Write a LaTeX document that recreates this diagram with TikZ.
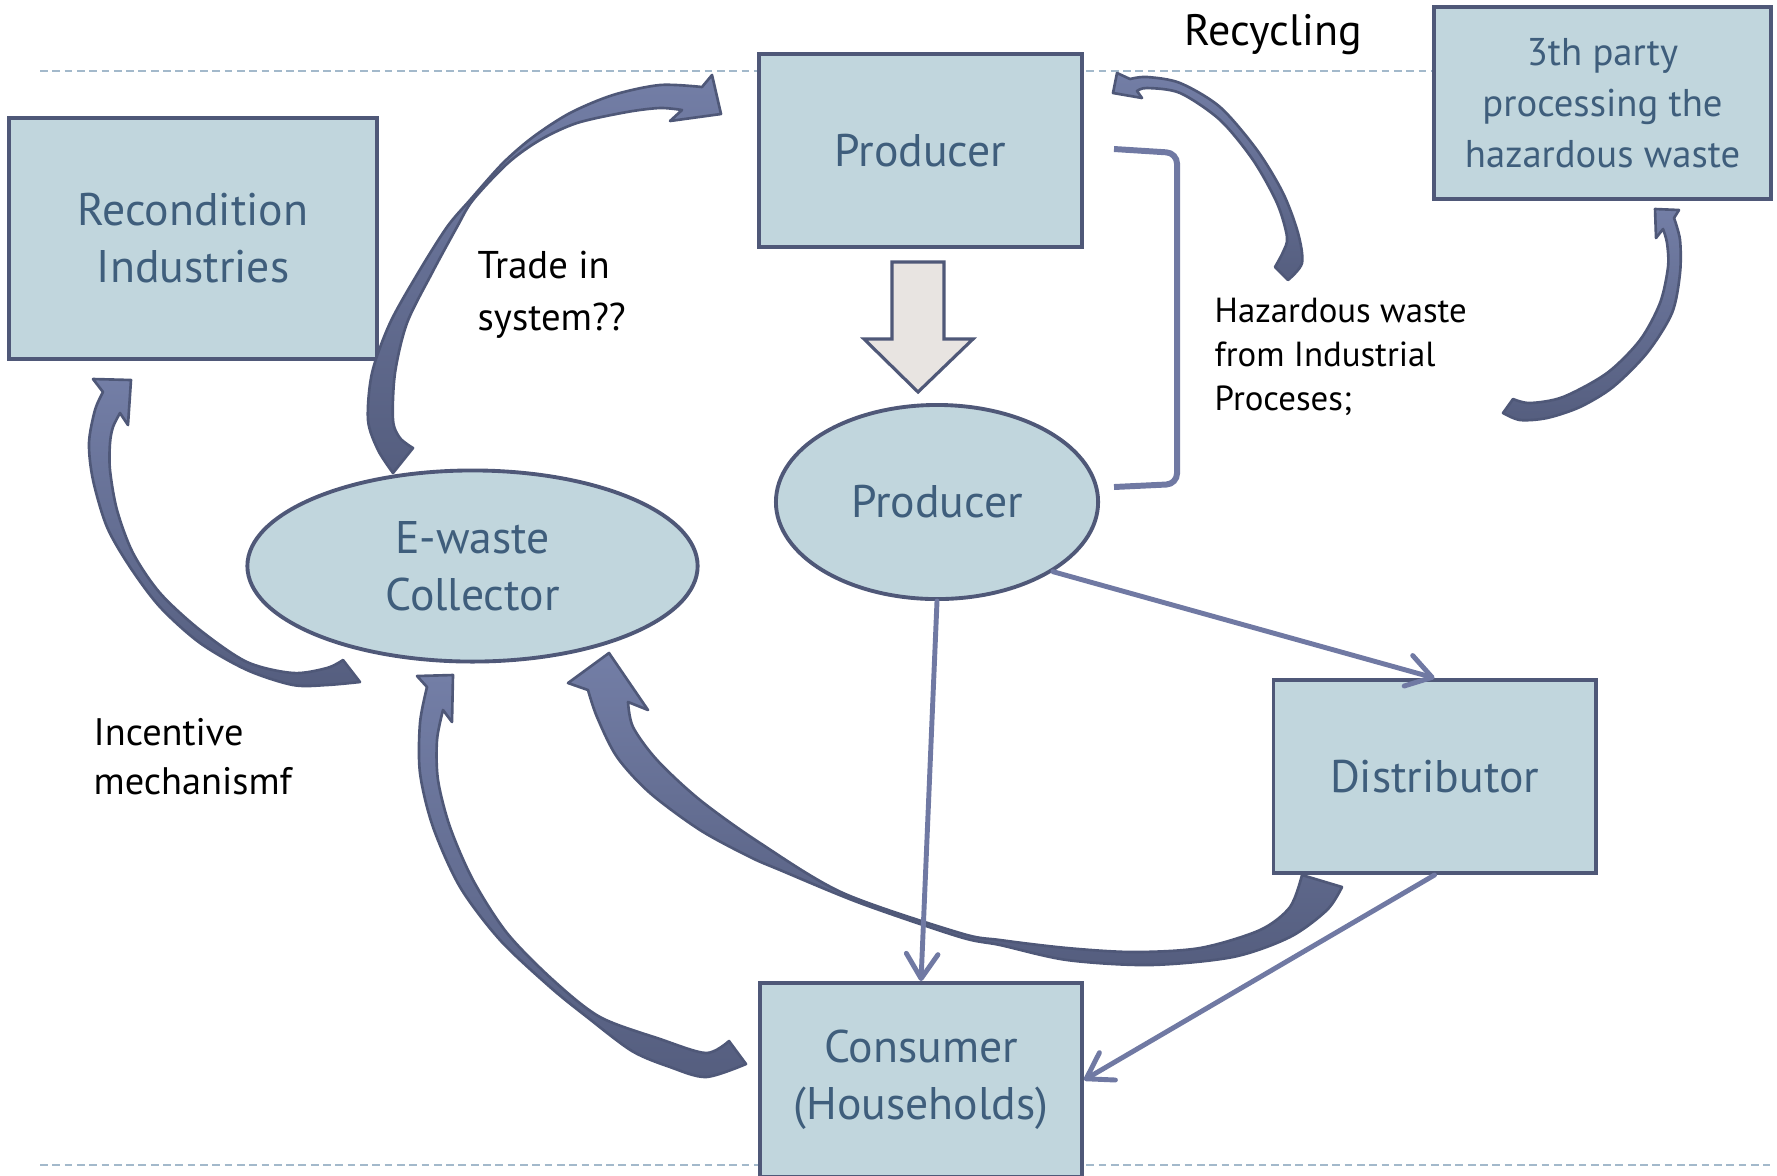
\documentclass[tikz,border=0pt]{standalone}
\usepackage{fontspec}
\setmainfont{PT Sans}
\usepackage{xcolor}
\usetikzlibrary{arrows.meta,shapes.geometric}
\definecolor{boxfill}{HTML}{C1D6DD}
\definecolor{boxedge}{HTML}{4F5878}
\definecolor{boxtext}{HTML}{3F5E7C}
\definecolor{flowcol}{HTML}{7079A3}
\definecolor{arrowlight}{HTML}{737EA6}
\definecolor{arrowdark}{HTML}{555E7F}
\definecolor{dashcol}{HTML}{A3B9CB}
\definecolor{hollowfill}{HTML}{E8E4E1}
\tikzset{
  stage/.style={rectangle, draw=boxedge, fill=boxfill, line width=1.1pt, minimum width=3.22cm, minimum height=1.93cm, inner sep=0pt, align=center, text=boxtext, font=\fontsize{13}{16.2}\selectfont},
  hub/.style={ellipse, draw=boxedge, fill=boxfill, line width=1.1pt, inner sep=0pt, align=center, text=boxtext, font=\fontsize{13}{16.2}\selectfont},
  flow/.style={draw=flowcol, line width=1.4pt, line cap=round, -{Straight Barb[length=7pt,width=9pt,round]}},
  bigarrow/.style={draw=boxedge, line width=0.75pt, line join=round, top color=arrowlight, bottom color=arrowdark},
  note/.style={align=left, anchor=west, inner sep=0pt, font=\fontsize{11}{14.8}\selectfont},
  guide/.style={draw=dashcol, line width=0.6pt, dash pattern=on 2.2pt off 1.3pt}
}
\begin{document}
\begin{tikzpicture}[x=0.01cm,y=-0.01cm]
\useasboundingbox (0,0) rectangle (1777,1175);
% dashed guides
\draw[guide] (40,71) -- (1434,71);
\draw[guide] (40,1165) -- (1770,1165);

% boxes
\node[stage, minimum width=3.68cm, minimum height=2.41cm] (recon) at (193,238.5) {Recondition\\Industries};
\node[stage] (prodbox) at (920.5,150.5) {Producer};
\node[stage, minimum width=3.37cm, minimum height=1.92cm, font=\fontsize{11}{14.5}\selectfont] (third) at (1602.5,103) {3th party\\processing the\\hazardous waste};
\node[stage] (dist) at (1434.5,776.5) {Distributor};
\node[stage, minimum height=1.94cm] (cons) at (921,1080) {Consumer\\(Households)};

% ellipses
\node[hub, minimum width=3.22cm, minimum height=1.94cm] (prod) at (937,502) {Producer};
\node[hub, minimum width=4.5cm, minimum height=1.91cm] (coll) at (472.5,566) {E-waste\\Collector};

% curved arrows
\draw[bigarrow] plot[smooth] coordinates {(393,473) (378,450) (368,420) (372,373) (390,323) (418,273) (447,227) (470,200) (503,163) (533,137) (570,113) (613,95) (660,85) (702,87)}
  -- (712,75) -- (721,114) -- (670,121)
  -- plot[smooth] coordinates {(682,110) (660,108) (627,112) (577,123) (540,140) (508,163) (473,200) (457,227) (432,273) (407,323) (395,373) (393,420) (400,438) (413,448)} -- cycle;
\draw[bigarrow] plot[smooth] coordinates {(360,682) (327,685) (293,685) (247,670) (200,643) (160,607) (130,567) (107,527) (93,480) (89,443) (95,410) (103,392)}
  -- (93,379) -- (131,380) -- (128,425)
  -- plot[smooth] coordinates {(120,413) (113,427) (110,443) (110,470) (117,510) (133,553) (160,593) (200,630) (247,662) (293,673) (327,668) (343,660)} -- cycle;
\draw[bigarrow] plot[smooth] coordinates {(1288,280) (1302,263) (1298,233) (1283,193) (1257,150) (1220,107) (1180,83) (1147,77) (1130,79)}
  -- (1117,73) -- (1113,93) -- (1142,98)
  -- plot[smooth] coordinates {(1137,91) (1147,88) (1180,93) (1220,120) (1253,160) (1277,203) (1287,237) (1283,252) (1275,267)} -- cycle;
\draw[bigarrow] plot[smooth] coordinates {(1503,413) (1520,420) (1547,418) (1580,407) (1613,387) (1647,353) (1672,313) (1680,273) (1680,240) (1674,218)}
  -- (1679,210) -- (1655,209) -- (1656,238)
  -- plot[smooth] coordinates {(1663,229) (1667,243) (1668,267) (1660,303) (1640,340) (1607,373) (1563,397) (1530,403) (1513,399)} -- cycle;
\draw[bigarrow] plot[smooth] coordinates {(746,1064) (706,1077) (670,1067) (632,1051) (587,1017) (550,987) (500,940) (460,887) (433,827) (420,773) (420,723) (427,687)}
  -- (417,676) -- (453,675) -- (452,722)
  -- plot[smooth] coordinates {(443,710) (437,740) (438,780) (450,827) (473,880) (507,933) (553,980) (600,1017) (660,1039) (706,1053) (729,1041)} -- cycle;
\draw[bigarrow] (609,653) -- (648,710)
  -- plot[smooth] coordinates {(628,702) (633,727) (657,760) (700,800) (760,843) (843,893) (960,933) (1000,940) (1067,948) (1133,952) (1200,948) (1260,930) (1290,907) (1302,875)}
  -- plot[smooth] coordinates {(1342,887) (1327,910) (1290,937) (1233,957) (1150,965) (1067,960) (1000,945) (960,937) (860,903) (780,870) (750,857) (700,830) (650,793) (617,757) (597,717) (588,690)}
  -- (568,683) -- cycle;

% thin arrows
\draw[flow] (prod.south) -- (cons.north);
\draw[flow] (prod.-31) -- (dist.north);
\draw[flow] (dist.south) -- (cons.east);

% bracket and down arrow
\draw[draw=flowcol, line width=1.7pt, rounded corners=3] (1114,149) -- (1177,153) -- (1177,484) -- (1114,487);
\draw[draw=boxedge, fill=hollowfill, line width=0.9pt] (892,262) -- (944,262) -- (944,339) -- (973,339) -- (918,392) -- (864,339) -- (892,339) -- cycle;

% labels
\node[note, anchor=center, font=\fontsize{12.5}{15}\selectfont] (recycling) at (1273,35) {Recycling};
\node[note] (trade) at (477,295) {Trade in\\system??};
\node[note, font=\fontsize{9.9}{12.6}\selectfont] (hazard) at (1214,357) {Hazardous waste\\from Industrial\\Proceses;};
\node[note, font=\fontsize{10.9}{13.9}\selectfont] (incentive) at (93,757) {Incentive\\mechanismf};
\end{tikzpicture}
\end{document}
